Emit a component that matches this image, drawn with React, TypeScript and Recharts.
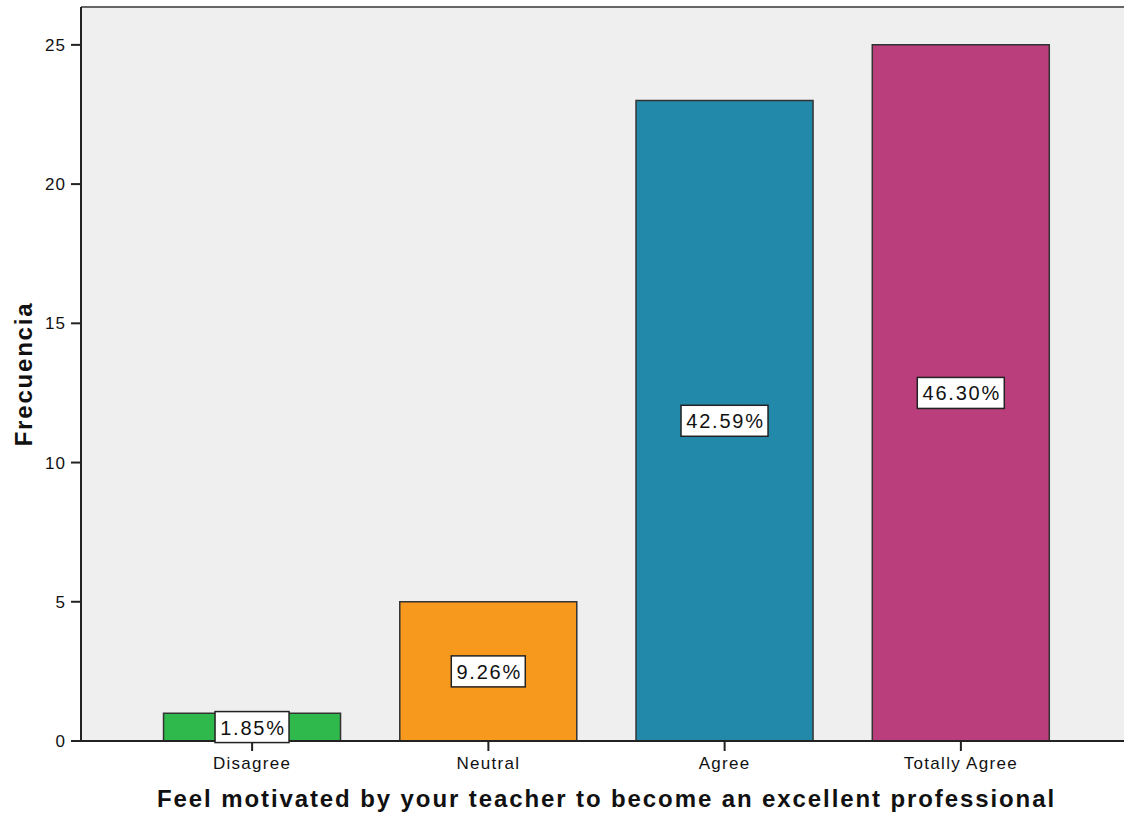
import React from 'react';
import { BarChart, Bar, XAxis, YAxis, CartesianGrid, Cell, LabelList, ReferenceLine } from 'recharts';

const CATEGORIES = ['Disagree', 'Neutral', 'Agree', 'Totally Agree'];
const COUNTS = [1, 5, 23, 25];
const PERCENTS = ['1.85%', '9.26%', '42.59%', '46.30%'];
const Y_TICKS = [0, 5, 10, 15, 20, 25];
const Y_MAX = 26.36;

const COLORS = ['#2fb84b', '#f7991d', '#2389aa', '#ba3e7c'];
const FONT = 'Liberation Sans, Arial, sans-serif';

const data = CATEGORIES.map((name, i) => ({ name, count: COUNTS[i], pct: PERCENTS[i] }));

const PctLabel = (props: any) => {
  const { x, y, width, height, index } = props;
  const text = PERCENTS[index];
  const w = text.length * 13 + 9;
  const h = 31;
  const cx = x + width / 2;
  const cy = y + height / 2;
  return (
    <g>
      <rect x={cx - w / 2} y={cy - h / 2} width={w} height={h} fill="#fff" stroke="#222" strokeWidth={1.5} />
      <text x={cx + 1} y={cy + 7.5} textAnchor="middle" fontSize={20} letterSpacing={1.8} fontFamily={FONT} fill="#111">
        {text}
      </text>
    </g>
  );
};

export default function App() {
  return (
    <div style={{ position: 'absolute', left: 0, top: 0, width: 1124, height: 818, overflow: 'hidden', background: '#fff' }}>
      <BarChart
        width={1140}
        height={818}
        data={data}
        margin={{ top: 7, right: 8, left: 0, bottom: 0 }}
        barCategoryGap="12.5%"
      >
        <CartesianGrid fill="#efefef" horizontal={false} vertical={false} />
        <ReferenceLine y={Y_MAX} stroke="#666" strokeWidth={2} />
        <XAxis
          dataKey="name"
          height={77}
          padding={{ left: 53, right: 53 }}
          stroke="#222"
          strokeWidth={2}
          tickSize={10}
          tickMargin={6}
          tick={{ fill: '#111', fontSize: 17, letterSpacing: 1.3, fontFamily: FONT }}
          label={{
            value: 'Feel motivated by your teacher to become an excellent professional',
            position: 'insideBottom',
            offset: 11,
            fill: '#111',
            fontSize: 24,
            letterSpacing: 1.9,
            fontWeight: 'bold',
            fontFamily: FONT,
          }}
        />
        <YAxis
          width={81}
          domain={[0, Y_MAX]}
          ticks={Y_TICKS}
          interval={0}
          stroke="#222"
          strokeWidth={2}
          tickSize={10}
          tickMargin={5}
          tick={{ fill: '#111', fontSize: 17, letterSpacing: 1, fontFamily: FONT }}
          label={{
            value: 'Frecuencia',
            angle: -90,
            position: 'insideLeft',
            offset: 0,
            dx: 23,
            textAnchor: 'middle',
            fill: '#111',
            fontSize: 24,
            letterSpacing: 1.8,
            fontWeight: 'bold',
            fontFamily: FONT,
          }}
        />
        <Bar dataKey="count" stroke="#333" strokeWidth={1.5} isAnimationActive={false}>
          {data.map((d, i) => (
            <Cell key={d.name} fill={COLORS[i]} />
          ))}
          <LabelList dataKey="pct" content={<PctLabel />} />
        </Bar>
      </BarChart>
    </div>
  );
}
